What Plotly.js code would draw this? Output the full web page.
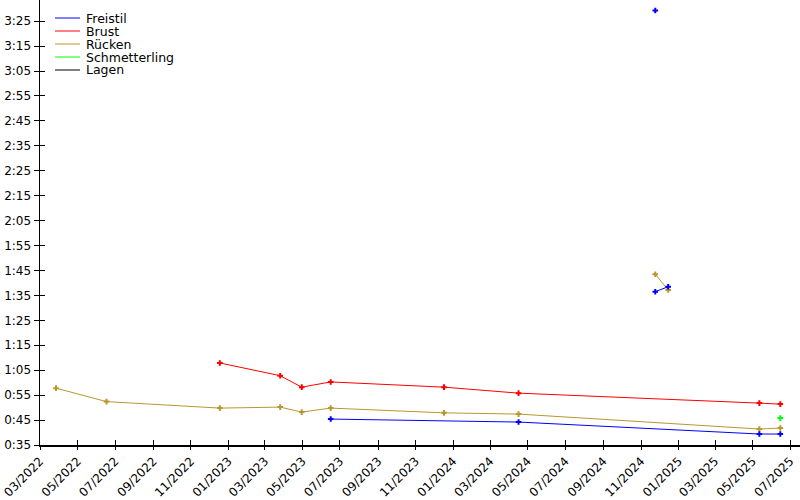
<!DOCTYPE html>
<html><head><meta charset="utf-8">
<script src="https://cdn.plot.ly/plotly-3.0.1.min.js"></script>
<style>html,body{margin:0;padding:0;background:#fff}#chart{width:800px;height:500px}</style>
</head><body><div id="chart"></div>
<script>
// Stroke names and colours (legend)
const strokes = ['Freistil', 'Brust', 'Rücken', 'Schmetterling', 'Lagen'];
const strokeColors = ['#0000ff', '#ff0000', '#b8972f', '#00ff00', '#000000'];

// Times in seconds
const freistil50Dates = ['2023-06-16', '2024-04-16', '2025-05-12', '2025-06-15'];
const freistil50Times = [45.4, 44.2, 39.4, 39.4];
const freistil100Dates = ['2024-11-24', '2024-12-15'];
const freistil100Times = [96.5, 98.5];
const freistil200Dates = ['2024-11-24'];
const freistil200Times = [209.3];

const brust50Dates = ['2022-12-18', '2023-03-26', '2023-04-30', '2023-06-16', '2023-12-17', '2024-04-16', '2025-05-12', '2025-06-15'];
const brust50Times = [67.9, 62.8, 58.2, 60.3, 58.2, 55.8, 51.8, 51.4];

const ruecken50Dates = ['2022-03-27', '2022-06-17', '2022-12-18', '2023-03-26', '2023-04-30', '2023-06-16', '2023-12-17', '2024-04-16', '2025-05-12', '2025-06-15'];
const ruecken50Times = [57.8, 52.4, 49.8, 50.2, 48.2, 49.8, 47.9, 47.4, 41.4, 41.8];
const ruecken100Dates = ['2024-11-24', '2024-12-15'];
const ruecken100Times = [103.5, 97.2];

const schmetterling50Dates = ['2025-06-15'];
const schmetterling50Times = [45.8];

// Y tick values (seconds) and labels
const yTickVals = [35, 45, 55, 65, 75, 85, 95, 105, 115, 125, 135, 145, 155, 165, 175, 185, 195, 205];
const yTickLabels = ['0:35', '0:45', '0:55', '1:05', '1:15', '1:25', '1:35', '1:45', '1:55', '2:05', '2:15', '2:25', '2:35', '2:45', '2:55', '3:05', '3:15', '3:25'];

const xRange = ['2022-03-01', '2025-07-17'];
const yRange = [35, 213.5];

function series(x, y, idx) {
  return {
    x: x, y: y, type: 'scatter', mode: 'lines+markers', showlegend: false,
    line: {color: strokeColors[idx], width: 1},
    marker: {symbol: 'cross-thin', size: 4, line: {color: strokeColors[idx], width: 2}, color: strokeColors[idx]},
    hoverinfo: 'x+y'
  };
}

const data = [
  series(ruecken50Dates, ruecken50Times, 2),
  series(ruecken100Dates, ruecken100Times, 2),
  series(brust50Dates, brust50Times, 1),
  series(freistil50Dates, freistil50Times, 0),
  series(freistil100Dates, freistil100Times, 0),
  series(freistil200Dates, freistil200Times, 0),
  series(schmetterling50Dates, schmetterling50Times, 3)
];

const font = {family: 'DejaVu Sans, sans-serif', size: 12, color: '#000'};
const legendFont = {family: 'DejaVu Sans, sans-serif', size: 12.5, color: '#000'};
const PW = 760, PH = 445;

// Legend drawn as lines + texts (gnuplot-like compact legend)
const shapes = [];
const annotations = [];
strokes.forEach((name, i) => {
  const yPix = 18 + i * 13;
  const yp = 1 - yPix / PH;
  shapes.push({type: 'line', xref: 'paper', yref: 'paper', x0: 15 / PW, x1: 40 / PW, y0: yp, y1: yp,
    line: {color: strokeColors[i], width: 1}});
  annotations.push({xref: 'paper', yref: 'paper', x: 44 / PW, y: yp, text: name, showarrow: false,
    xanchor: 'left', yanchor: 'middle', font: legendFont});
});

const layout = {
  width: 800, height: 500,
  margin: {l: 40, r: 0, t: 0, b: 55},
  paper_bgcolor: '#fff', plot_bgcolor: '#fff',
  font: font,
  showlegend: false,
  xaxis: {
    type: 'date', range: xRange, tick0: '2022-03-01', dtick: 'M2', tickformat: '%m/%Y',
    tickangle: -45, ticks: 'outside', ticklen: 3, tickwidth: 1, tickcolor: '#000',
    showline: true, linecolor: '#000', linewidth: 1.5, showgrid: false, zeroline: false,
    tickfont: font
  },
  xaxis2: {
    type: 'date', range: xRange, tick0: '2022-03-01', dtick: 'M2', overlaying: 'x',
    ticks: 'inside', ticklen: 5, tickwidth: 1, tickcolor: '#000', showticklabels: false,
    showline: false, showgrid: false, zeroline: false
  },
  yaxis: {
    range: yRange, tickvals: yTickVals, ticktext: yTickLabels,
    ticks: 'outside', ticklen: 5, tickwidth: 1, tickcolor: '#000',
    showline: true, linecolor: '#000', linewidth: 1.5, showgrid: false, zeroline: false,
    tickfont: font
  },
  yaxis2: {
    range: yRange, tickvals: yTickVals, overlaying: 'y',
    ticks: 'inside', ticklen: 5, tickwidth: 1, tickcolor: '#000', showticklabels: false,
    showline: false, showgrid: false, zeroline: false
  },
  shapes: shapes,
  annotations: annotations
};

// invisible trace to anchor the overlay axes (inside ticks)
data.push({x: [null], y: [null], xaxis: 'x2', yaxis: 'y2', type: 'scatter', mode: 'markers', showlegend: false, hoverinfo: 'skip'});

Plotly.newPlot('chart', data, layout, {displayModeBar: false, staticPlot: true});
</script>
</body></html>
